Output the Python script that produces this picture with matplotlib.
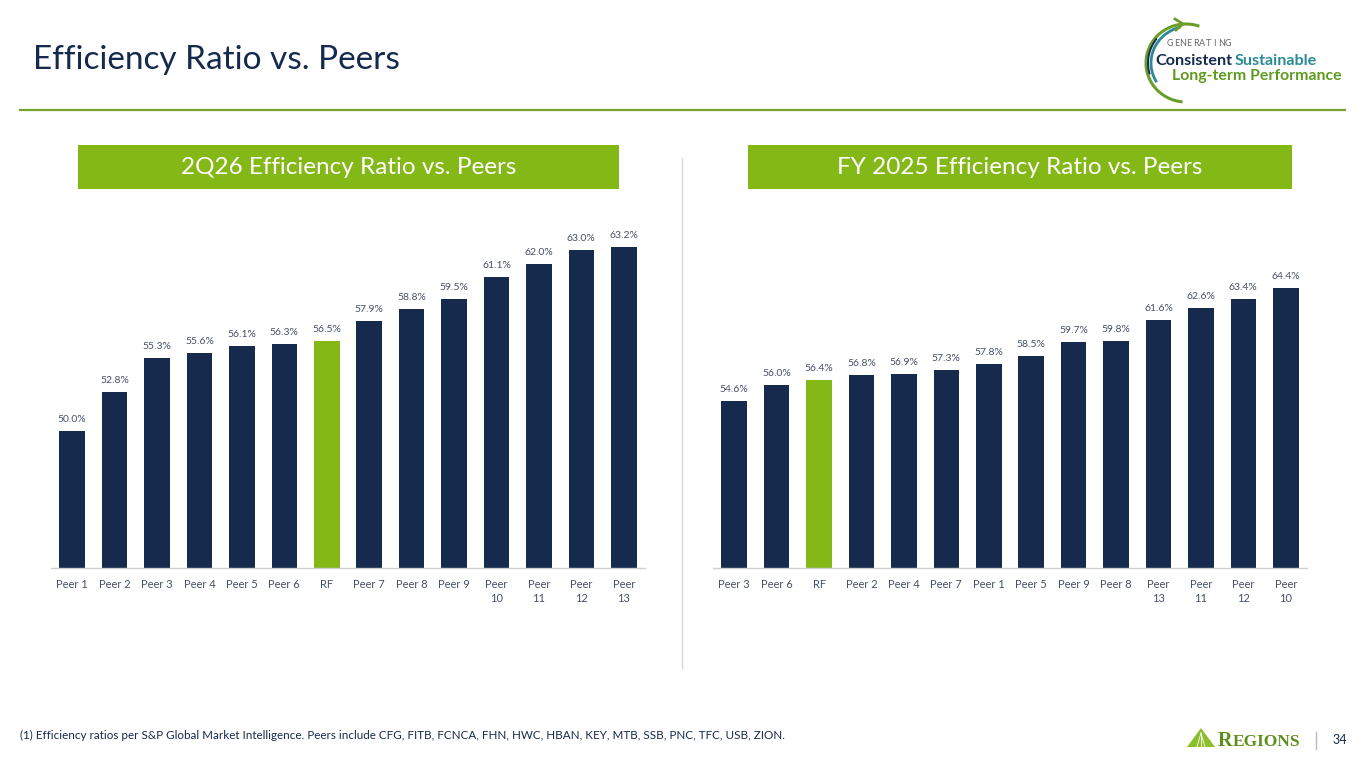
import matplotlib
matplotlib.use("Agg")
import matplotlib.pyplot as plt
from matplotlib.patches import Rectangle, Arc, Polygon
from matplotlib.lines import Line2D

# ---------------- data ----------------
left_categories = ["Peer 1", "Peer 2", "Peer 3", "Peer 4", "Peer 5", "Peer 6", "RF",
                   "Peer 7", "Peer 8", "Peer 9", "Peer\n10", "Peer\n11", "Peer\n12", "Peer\n13"]
left_values = [50.0, 52.8, 55.3, 55.6, 56.1, 56.3, 56.5, 57.9, 58.8, 59.5, 61.1, 62.0, 63.0, 63.2]

right_categories = ["Peer 3", "Peer 6", "RF", "Peer 2", "Peer 4", "Peer 7", "Peer 1",
                    "Peer 5", "Peer 9", "Peer 8", "Peer\n13", "Peer\n11", "Peer\n12", "Peer\n10"]
right_values = [54.6, 56.0, 56.4, 56.8, 56.9, 57.3, 57.8, 58.5, 59.7, 59.8, 61.6, 62.6, 63.4, 64.4]

left_title = "2Q26 Efficiency Ratio vs. Peers"
right_title = "FY 2025 Efficiency Ratio vs. Peers"
highlight = "RF"

# ---------------- style ----------------
NAVY = "#152A4D"
GREEN = "#84B817"
TXT = "#44506A"
FONT = ["Lato", "DejaVu Sans"]
plt.rcParams["font.family"] = FONT

W, H = 1365, 768
fig = plt.figure(figsize=(W / 100, H / 100), dpi=100)
fig.patch.set_facecolor("white")


def fx(x):
    return x / W


def fy(y):
    return 1 - y / H


def px_axes(x0, y0, x1, y1):
    return [fx(x0), fy(y1), fx(x1) - fx(x0), fy(y0) - fy(y1)]


# title
fig.text(fx(33), fy(60), "Efficiency Ratio vs. Peers", fontsize=24, color=NAVY,
         va="center", ha="left")
fig.add_artist(Line2D([fx(20), fx(1345)], [fy(110), fy(110)], color="#77A22F", lw=1.6))

# header boxes
for (x0, x1, t) in [(78, 619, left_title), (748, 1292, right_title)]:
    fig.add_artist(Rectangle((fx(x0), fy(189)), fx(x1) - fx(x0), fy(145) - fy(189),
                             facecolor=GREEN, edgecolor="none", transform=fig.transFigure))
    fig.text((fx(x0) + fx(x1)) / 2, fy(167), t, color="white", fontsize=17.5,
             ha="center", va="center")

# divider
fig.add_artist(Line2D([fx(682), fx(682)], [fy(158), fy(668)], color="#D9D9D9", lw=1))


def bar_panel(rect, cats, vals, ylim):
    ax = fig.add_axes(rect)
    x = list(range(len(cats)))
    colors = [GREEN if c == highlight else NAVY for c in cats]
    bars = ax.bar(x, vals, width=0.6, color=colors, zorder=2)
    ax.set_ylim(*ylim)
    ax.set_xlim(-0.5, len(cats) - 0.5)
    for b, v in zip(bars, vals):
        ax.annotate(f"{v:.1f}%", (b.get_x() + b.get_width() / 2, v),
                    xytext=(0, 5), textcoords="offset points",
                    ha="center", va="bottom", fontsize=7.5, color=TXT)
    ax.set_xticks(x)
    ax.set_xticklabels(cats, fontsize=8, color=TXT, linespacing=1.3)
    ax.tick_params(axis="x", length=0, pad=8)
    ax.set_yticks([])
    for s in ["top", "right", "left"]:
        ax.spines[s].set_visible(False)
    ax.spines["bottom"].set_color("#D0D0D0")
    ax.spines["bottom"].set_linewidth(1)
    return ax


bar_panel(px_axes(51, 230, 645, 568), left_categories, left_values, (40.2, 64.45))
bar_panel(px_axes(713, 230, 1307, 568), right_categories, right_values, (40.1, 69.4))

# footnote
fig.text(fx(20), fy(735),
         "(1) Efficiency ratios per S&P Global Market Intelligence. Peers include CFG, FITB, "
         "FCNCA, FHN, HWC, HBAN, KEY, MTB, SSB, PNC, TFC, USB, ZION.",
         fontsize=8.4, color=NAVY, va="center", ha="left")

# page number + Regions mark
fig.text(fx(1340), fy(740), "34", fontsize=9, color=NAVY, va="center", ha="center")
fig.add_artist(Line2D([fx(1316), fx(1316)], [fy(732), fy(749)], color="#BBBBBB", lw=1))
fig.add_artist(Polygon([(fx(1187), fy(747)), (fx(1201), fy(728)), (fx(1215), fy(747))],
                       closed=True, facecolor="#8DBE2C", edgecolor="none",
                       transform=fig.transFigure))
for dx in (-4, 0, 4):
    fig.add_artist(Line2D([fx(1201), fx(1201 + dx)], [fy(733), fy(747)], color="white",
                          lw=0.6))
fig.text(fx(1218), fy(740.5), "R", fontsize=14.5, color="#5E8E1E", va="center", ha="left",
         family=["Liberation Serif"], fontweight="bold")
fig.text(fx(1233), fy(741.5), "EGIONS", fontsize=12.5, color="#5E8E1E", va="center",
         ha="left", family=["Liberation Serif"], fontweight="bold")

# top-right logo
lax = fig.add_axes(px_axes(1120, 10, 1360, 110))
lax.set_xlim(1120, 1360)
lax.set_ylim(110, 10)
lax.axis("off")
lax.add_patch(Arc((1186, 63), 80, 78, theta1=95, theta2=290, color="#6A9E2A", lw=2.2))
lax.add_patch(Arc((1190, 63), 78, 74, theta1=150, theta2=255, color="#2C8A97", lw=2.0))
lax.add_patch(Arc((1192, 63), 88, 82, theta1=165, theta2=215, color=NAVY, lw=1.4))
lax.plot([1175, 1183, 1176], [19, 24, 30], color="#6A9E2A", lw=2)
for i, ch in enumerate("GENERATING"):
    lax.text(1170 + i * 6.4, 43, ch, fontsize=6.5, color="#666666", va="center",
             ha="center")
lax.text(1155, 61, "Consistent", fontsize=11.6, color=NAVY, fontweight="bold", va="center")
lax.text(1235, 61, "Sustainable", fontsize=11.6, color="#2C8A97", fontweight="bold",
         va="center")
lax.text(1172, 76, "Long-term Performance", fontsize=11.4, color="#5E9A1E",
         fontweight="bold", va="center")

fig.savefig("out.png", dpi=100, facecolor="white")
